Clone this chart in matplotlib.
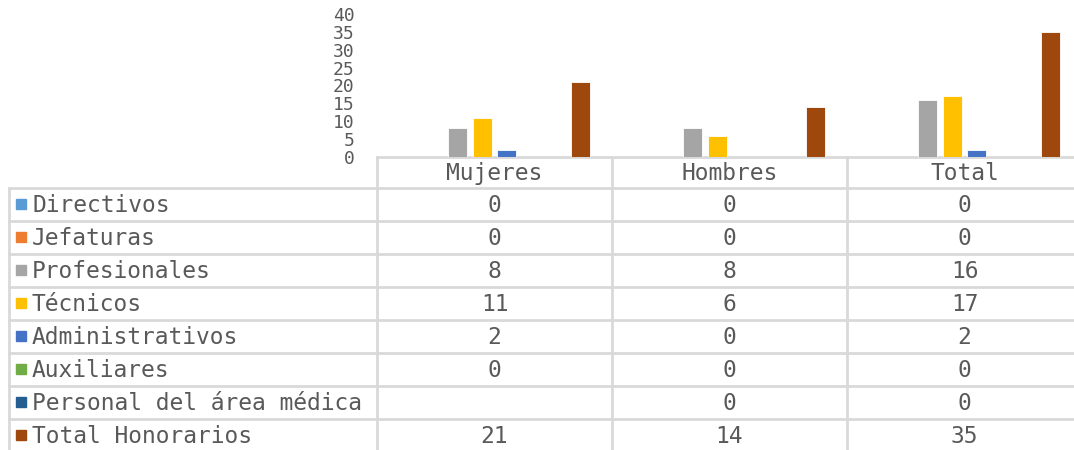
import matplotlib
matplotlib.use("Agg")
import matplotlib.pyplot as plt
import numpy as np

# data
categories = ["Mujeres", "Hombres", "Total"]
series = ["Directivos", "Jefaturas", "Profesionales", "Técnicos",
          "Administrativos", "Auxiliares", "Personal del área médica",
          "Total Honorarios"]
directivos = [0, 0, 0]
jefaturas = [0, 0, 0]
profesionales = [8, 8, 16]
tecnicos = [11, 6, 17]
administrativos = [2, 0, 2]
auxiliares = [0, 0, 0]
personal_medico = [None, 0, 0]
total_honorarios = [21, 14, 35]
values = [directivos, jefaturas, profesionales, tecnicos,
          administrativos, auxiliares, personal_medico, total_honorarios]
colors = ["#5B9BD5", "#ED7D31", "#A5A5A5", "#FFC000",
          "#4472C4", "#70AD47", "#255E91", "#9E480E"]

txt = "#595959"
grid = "#D9D9D9"
W, H = 1074, 450
plt.rcParams['font.family'] = ['DejaVu Sans Mono']

fig = plt.figure(figsize=(W / 100, H / 100), dpi=100)

# table layer in pixel coords
tax = fig.add_axes([0, 0, 1, 1])
tax.set_xlim(0, W)
tax.set_ylim(H, 0)
tax.axis("off")

x_left, x_lab, col_w = 9, 377, 235
y_head, y_row0, row_h = 157, 188, 33
col_edges = [x_lab + i * col_w for i in range(4)]
row_edges = [y_row0 + i * row_h for i in range(len(series) + 1)]

lw = 2
tax.plot([x_lab, col_edges[-1]], [y_head, y_head], color=grid, lw=lw)
for y in row_edges:
    tax.plot([x_left, col_edges[-1]], [y, y], color=grid, lw=lw)
tax.plot([x_left, x_left], [y_row0, row_edges[-1]], color=grid, lw=lw)
for x in col_edges:
    tax.plot([x, x], [y_head, row_edges[-1]], color=grid, lw=lw)

fs = 16.5
for j, c in enumerate(categories):
    tax.text(x_lab + (j + 0.5) * col_w, (y_head + y_row0) / 2 + 1, c,
             ha="center", va="center", fontsize=fs, color=txt)

for i, name in enumerate(series):
    yc = y_row0 + (i + 0.5) * row_h
    tax.add_patch(plt.Rectangle((16, yc - 6), 10, 10, color=colors[i]))
    tax.text(32, yc + 1, name, ha="left", va="center", fontsize=fs, color=txt)
    for j, v in enumerate(values[i]):
        if v is None:
            continue
        tax.text(x_lab + (j + 0.5) * col_w, yc + 1, str(v),
                 ha="center", va="center", fontsize=fs, color=txt)

# bar chart
ax = fig.add_axes([x_lab / W, (H - y_head) / H, 3 * col_w / W, 143 / H])
n = len(series)
step = 0.105
bw = 0.081
x = np.arange(len(categories))
for i in range(n):
    h = [0 if v is None else v for v in values[i]]
    ax.bar(x + (i - (n - 1) / 2) * step, h, width=bw, color=colors[i],
           edgecolor="white", linewidth=0.6)
ax.set_xlim(-0.5, len(categories) - 0.5)
ax.set_ylim(0, 40)
ax.set_yticks(range(0, 41, 5))
ax.tick_params(axis="y", length=0, labelsize=13, labelcolor=txt, pad=16)
ax.set_xticks([])
for s in ax.spines.values():
    s.set_visible(False)
ax.patch.set_alpha(0)

fig.savefig("out.png", dpi=100)
